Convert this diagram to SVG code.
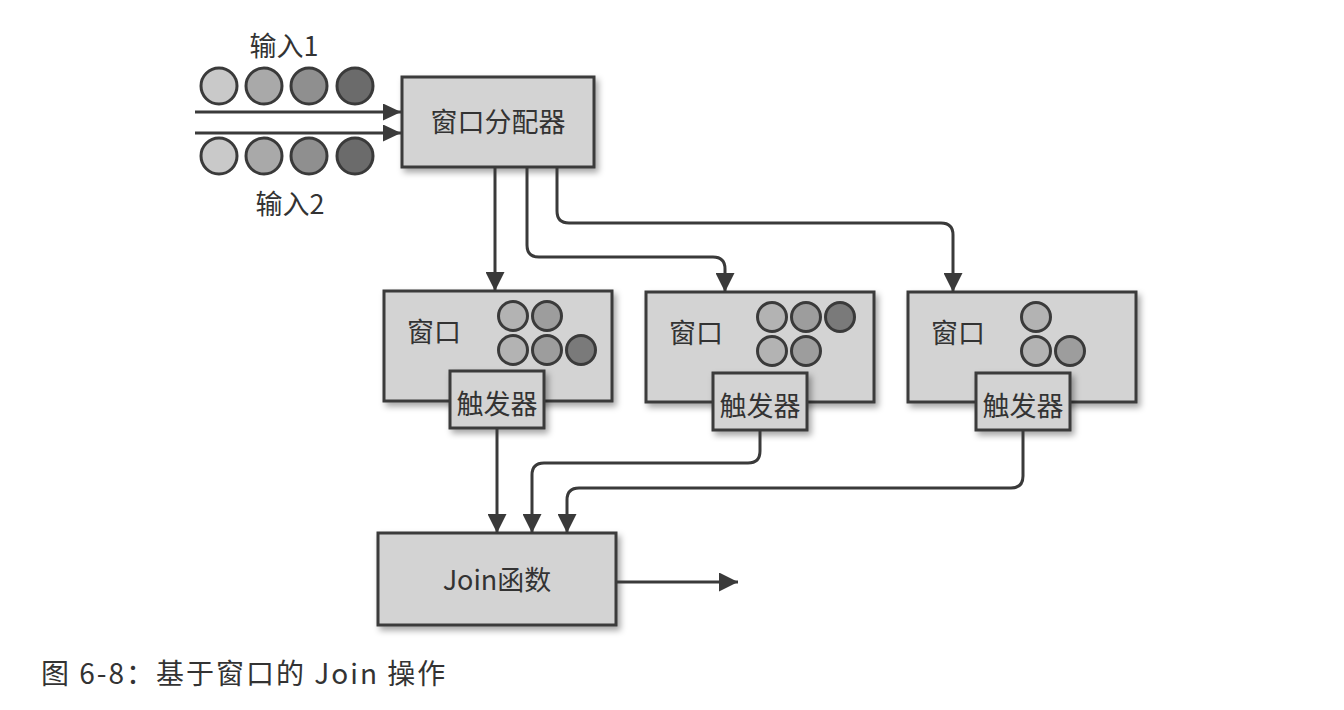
<svg xmlns="http://www.w3.org/2000/svg" width="1344" height="710" viewBox="0 0 1344 710">
<defs>
<style>
.box{fill:#d3d3d3;stroke:#3a3a3a;stroke-width:3;filter:url(#sh)}
.lbl{font-family:"Noto Sans CJK SC","Noto Sans",sans-serif;font-size:27px;fill:#333;}
.cap{font-size:28px;letter-spacing:2px}
.c{stroke:#3a3a3a;stroke-width:3}
.l1{fill:#c9c9c9}.l2{fill:#a9a9a9}.l3{fill:#8f8f8f}.l4{fill:#6b6b6b}
.w1{fill:#b3b3b3}.w2{fill:#9d9d9d}.w3{fill:#7a7a7a}
.conn{fill:none;stroke:#3a3a3a;stroke-width:3;marker-end:url(#ah)}
.inp{fill:none;stroke:#3a3a3a;stroke-width:3;marker-end:url(#ahs)}
</style>
<filter id="sh" x="-10%" y="-10%" width="130%" height="130%">
<feDropShadow dx="3" dy="4" stdDeviation="3" flood-color="#000" flood-opacity="0.35"/>
</filter>
<marker id="ah" markerUnits="userSpaceOnUse" markerWidth="19" markerHeight="19" refX="19" refY="9.5" orient="auto">
<path d="M0,0 L19,9.5 L0,19 z" fill="#3a3a3a"/>
</marker>
<marker id="ahs" markerUnits="userSpaceOnUse" markerWidth="18" markerHeight="17" refX="18" refY="8.5" orient="auto">
<path d="M0,0 L18,8.5 L0,17 z" fill="#3a3a3a"/>
</marker>
</defs>
<rect width="1344" height="710" fill="#fff"/>

<g id="input1">
<text class="lbl" x="284" y="56" text-anchor="middle">输入1</text>
<circle class="c l1" cx="219" cy="86" r="18"/>
<circle class="c l2" cx="264" cy="86" r="18"/>
<circle class="c l3" cx="309" cy="86" r="18"/>
<circle class="c l4" cx="355" cy="86" r="18"/>
</g>
<g id="input2">
<circle class="c l1" cx="219" cy="156" r="18"/>
<circle class="c l2" cx="264" cy="156" r="18"/>
<circle class="c l3" cx="309" cy="156" r="18"/>
<circle class="c l4" cx="355" cy="156" r="18"/>
<text class="lbl" x="290" y="214" text-anchor="middle">输入2</text>
</g>

<g id="assigner">
<rect class="box" x="402" y="77" width="192" height="90"/>
<text class="lbl" x="498" y="132" text-anchor="middle">窗口分配器</text>
</g>

<g id="window1">
<rect class="box" x="384" y="291" width="228" height="110"/>
<text class="lbl" x="407" y="342">窗口</text>
<circle class="c w1" cx="513" cy="316" r="14.5"/>
<circle class="c w2" cx="547" cy="316" r="14.5"/>
<circle class="c w1" cx="513" cy="350" r="14.5"/>
<circle class="c w2" cx="547" cy="350" r="14.5"/>
<circle class="c w3" cx="581" cy="350" r="14.5"/>
<rect class="box" x="450" y="371" width="94" height="57"/>
<text class="lbl" x="497" y="414" text-anchor="middle">触发器</text>
</g>

<g id="window2">
<rect class="box" x="646" y="292" width="228" height="110"/>
<text class="lbl" x="669" y="343">窗口</text>
<circle class="c w1" cx="772" cy="317" r="14.5"/>
<circle class="c w2" cx="806" cy="317" r="14.5"/>
<circle class="c w3" cx="840" cy="317" r="14.5"/>
<circle class="c w1" cx="772" cy="351" r="14.5"/>
<circle class="c w2" cx="806" cy="351" r="14.5"/>
<rect class="box" x="713" y="373" width="94" height="57"/>
<text class="lbl" x="760" y="416" text-anchor="middle">触发器</text>
</g>

<g id="window3">
<rect class="box" x="908" y="292" width="228" height="110"/>
<text class="lbl" x="931" y="343">窗口</text>
<circle class="c w1" cx="1036" cy="317" r="14.5"/>
<circle class="c w1" cx="1036" cy="351" r="14.5"/>
<circle class="c w2" cx="1070" cy="351" r="14.5"/>
<rect class="box" x="976" y="373" width="94" height="57"/>
<text class="lbl" x="1023" y="416" text-anchor="middle">触发器</text>
</g>

<g id="join">
<rect class="box" x="378" y="533" width="238" height="92"/>
<text class="lbl" x="497" y="590" text-anchor="middle">Join函数</text>
</g>

<g id="connectors">
<path class="inp" d="M195,112 H401"/>
<path class="inp" d="M195,133 H401"/>
<path class="conn" d="M495,167 V291"/>
<path class="conn" d="M527,167 V245 Q527,257 539,257 H713 Q725,257 725,269 V292"/>
<path class="conn" d="M557,167 V211 Q557,223 569,223 H941 Q953,223 953,235 V292"/>
<path class="conn" d="M497,428 V533"/>
<path class="conn" d="M760,430 V451 Q760,463 748,463 H544 Q532,463 532,475 V533"/>
<path class="conn" d="M1023,430 V476 Q1023,488 1011,488 H579 Q567,488 567,500 V533"/>
<path class="conn" d="M616,582 H738"/>
</g>

<g id="caption">
<text class="lbl cap" x="41" y="684">图 6-8：基于窗口的 Join 操作</text>
</g>
</svg>
